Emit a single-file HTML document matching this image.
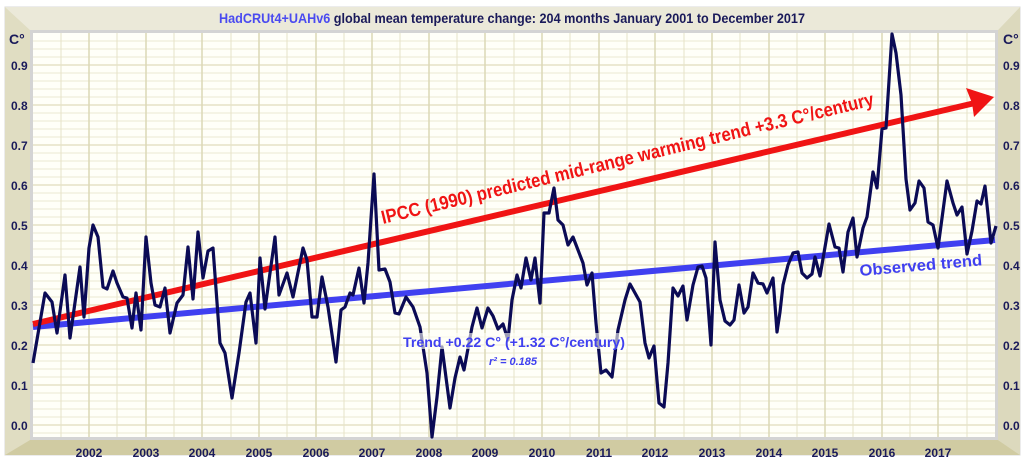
<!DOCTYPE html>
<html><head><meta charset="utf-8"><style>
html,body{margin:0;padding:0;background:#fff;width:1024px;height:460px;overflow:hidden}
svg{display:block}
text{font-family:"Liberation Sans",Arial,sans-serif;font-weight:bold}
</style></head><body>
<svg width="1024" height="460" viewBox="0 0 1024 460" xmlns="http://www.w3.org/2000/svg">
<!-- frame -->
<rect x="5" y="7" width="1015" height="448" fill="#ebe9d9" stroke="#d8d8d8"/>
<polygon points="5,7 30,30 30,440 5,455" fill="#e0ddc2"/>
<polygon points="1020,7 998,30 998,440 1020,455" fill="#dcd9bd"/>
<polygon points="5,455 30,440 998,440 1020,455" fill="#d0cba2"/>
<polygon points="5,7 1020,7 998,30 30,30" fill="#ebe9d9"/>
<!-- plot -->
<rect x="30" y="30" width="968" height="410" fill="#d4d4d4"/>
<rect x="33" y="33" width="962" height="404" fill="#fffff8"/>
<g stroke="#ebe8d2" stroke-width="1">
<line x1="33" y1="41" x2="995" y2="41"/><line x1="33" y1="49" x2="995" y2="49"/><line x1="33" y1="57" x2="995" y2="57"/><line x1="33" y1="73" x2="995" y2="73"/><line x1="33" y1="81" x2="995" y2="81"/><line x1="33" y1="89" x2="995" y2="89"/><line x1="33" y1="97" x2="995" y2="97"/><line x1="33" y1="113" x2="995" y2="113"/><line x1="33" y1="121" x2="995" y2="121"/><line x1="33" y1="129" x2="995" y2="129"/><line x1="33" y1="137" x2="995" y2="137"/><line x1="33" y1="153" x2="995" y2="153"/><line x1="33" y1="161" x2="995" y2="161"/><line x1="33" y1="169" x2="995" y2="169"/><line x1="33" y1="177" x2="995" y2="177"/><line x1="33" y1="193" x2="995" y2="193"/><line x1="33" y1="201" x2="995" y2="201"/><line x1="33" y1="209" x2="995" y2="209"/><line x1="33" y1="217" x2="995" y2="217"/><line x1="33" y1="233" x2="995" y2="233"/><line x1="33" y1="241" x2="995" y2="241"/><line x1="33" y1="249" x2="995" y2="249"/><line x1="33" y1="257" x2="995" y2="257"/><line x1="33" y1="273" x2="995" y2="273"/><line x1="33" y1="281" x2="995" y2="281"/><line x1="33" y1="289" x2="995" y2="289"/><line x1="33" y1="297" x2="995" y2="297"/><line x1="33" y1="313" x2="995" y2="313"/><line x1="33" y1="321" x2="995" y2="321"/><line x1="33" y1="329" x2="995" y2="329"/><line x1="33" y1="337" x2="995" y2="337"/><line x1="33" y1="353" x2="995" y2="353"/><line x1="33" y1="361" x2="995" y2="361"/><line x1="33" y1="369" x2="995" y2="369"/><line x1="33" y1="377" x2="995" y2="377"/><line x1="33" y1="393" x2="995" y2="393"/><line x1="33" y1="401" x2="995" y2="401"/><line x1="33" y1="409" x2="995" y2="409"/><line x1="33" y1="417" x2="995" y2="417"/><line x1="33" y1="433" x2="995" y2="433"/>
</g>
<g stroke="#e0dcbc" stroke-width="1.3">
<line x1="33" y1="65" x2="995" y2="65"/><line x1="33" y1="105" x2="995" y2="105"/><line x1="33" y1="145" x2="995" y2="145"/><line x1="33" y1="185" x2="995" y2="185"/><line x1="33" y1="225" x2="995" y2="225"/><line x1="33" y1="265" x2="995" y2="265"/><line x1="33" y1="305" x2="995" y2="305"/><line x1="33" y1="345" x2="995" y2="345"/><line x1="33" y1="385" x2="995" y2="385"/><line x1="33" y1="425" x2="995" y2="425"/>
</g>
<g stroke="#e6e3c8" stroke-width="1">
<line x1="61" y1="33" x2="61" y2="437"/><line x1="117" y1="33" x2="117" y2="437"/><line x1="174" y1="33" x2="174" y2="437"/><line x1="231" y1="33" x2="231" y2="437"/><line x1="287" y1="33" x2="287" y2="437"/><line x1="344" y1="33" x2="344" y2="437"/><line x1="400" y1="33" x2="400" y2="437"/><line x1="457" y1="33" x2="457" y2="437"/><line x1="514" y1="33" x2="514" y2="437"/><line x1="570" y1="33" x2="570" y2="437"/><line x1="627" y1="33" x2="627" y2="437"/><line x1="684" y1="33" x2="684" y2="437"/><line x1="740" y1="33" x2="740" y2="437"/><line x1="797" y1="33" x2="797" y2="437"/><line x1="853" y1="33" x2="853" y2="437"/><line x1="910" y1="33" x2="910" y2="437"/><line x1="967" y1="33" x2="967" y2="437"/>
</g>
<g stroke="#dcd8b6" stroke-width="1.5">
<line x1="89" y1="33" x2="89" y2="437"/><line x1="146" y1="33" x2="146" y2="437"/><line x1="202" y1="33" x2="202" y2="437"/><line x1="259" y1="33" x2="259" y2="437"/><line x1="316" y1="33" x2="316" y2="437"/><line x1="372" y1="33" x2="372" y2="437"/><line x1="429" y1="33" x2="429" y2="437"/><line x1="485" y1="33" x2="485" y2="437"/><line x1="542" y1="33" x2="542" y2="437"/><line x1="599" y1="33" x2="599" y2="437"/><line x1="655" y1="33" x2="655" y2="437"/><line x1="712" y1="33" x2="712" y2="437"/><line x1="769" y1="33" x2="769" y2="437"/><line x1="825" y1="33" x2="825" y2="437"/><line x1="882" y1="33" x2="882" y2="437"/><line x1="938" y1="33" x2="938" y2="437"/>
</g>
<!-- trend lines -->
<line x1="33" y1="327" x2="995" y2="240" stroke="#4040f0" stroke-width="6"/>
<line x1="33" y1="324" x2="975" y2="103" stroke="#f01414" stroke-width="6"/>
<polygon points="994,97 966,88 972,103 974,117" fill="#f01414"/>
<!-- data -->
<polyline fill="none" stroke="#0b0b55" stroke-width="3.2" stroke-linejoin="round" points="33,363 45,293 52,302 57,333 65,275 70,338 80,267 84,317 89,248 93,225 98,237 103,287 107,289 113,271 117,283 123,297 127,298 132,328 136,293 141,330 146,237 151,283 155,305 160,307 165,288 170,333 177,303 183,295 188,247 193,299 198,232 203,278 208,251 213,248 220,343 225,353 232,398 239,353 246,302 250,293 256,343 260,258 265,309 275,237 279,295 287,273 293,297 303,248 307,260 312,317 317,317 322,277 328,307 336,362 341,310 345,307 350,293 353,295 359,268 364,303 368,263 374,174 379,270 385,269 390,282 395,313 399,314 406,297 413,307 420,327 427,373 432,437 437,397 442,347 450,408 455,378 460,357 464,370 472,327 477,308 482,328 488,308 493,316 498,329 503,324 508,340 512,300 517,275 521,288 526,258 531,280 535,258 540,303 544,213 549,213 554,188 558,220 563,225 568,245 573,237 578,250 583,263 587,285 592,273 596,323 601,373 606,370 612,377 618,330 625,300 630,284 635,293 640,302 645,343 649,358 654,346 659,403 664,407 668,363 673,288 678,296 683,286 687,320 693,285 698,267 702,266 706,278 711,345 715,242 720,300 725,321 730,325 734,320 739,285 744,313 748,307 753,273 758,283 763,284 767,293 773,278 777,332 780,312 783,285 788,265 793,253 798,252 802,273 807,278 812,274 815,257 820,276 829,224 835,247 839,248 843,272 848,232 853,218 857,257 863,228 867,217 873,172 877,188 882,129 886,128 892,34 896,53 901,95 906,179 910,210 915,203 919,181 924,188 928,222 933,225 938,248 947,181 953,203 957,215 962,207 967,254 972,231 977,201 981,204 985,186 991,243 996,226"/>
<!-- annotations -->
<text x="383" y="224" transform="rotate(-13.6 383 224)" font-size="19" fill="#f01414" textLength="506" lengthAdjust="spacingAndGlyphs">IPCC (1990) predicted mid-range warming trend +3.3 C°/century</text>
<text x="860" y="276" transform="rotate(-5 860 276)" font-size="16" fill="#4040f0" textLength="123" lengthAdjust="spacingAndGlyphs">Observed trend</text>
<rect x="402" y="333" width="225" height="16" fill="#fffff8" opacity="0.6"/>
<text x="403" y="347" font-size="14" fill="#4040f0" textLength="222" lengthAdjust="spacingAndGlyphs">Trend +0.22 C° (+1.32 C°/century)</text>
<text x="489" y="365" font-size="11" font-style="italic" fill="#4040f0">r² = 0.185</text>
<!-- title -->
<text x="512" y="23" font-size="14" text-anchor="middle" fill="#1a1a5a" textLength="586" lengthAdjust="spacingAndGlyphs"><tspan fill="#4a4af0">HadCRUt4+UAHv6</tspan> global mean temperature change: 204 months January 2001 to December 2017</text>
<!-- y labels -->
<g font-size="12" fill="#1a1a5a">
<text x="9" y="44" font-size="14">C°</text>
<text x="1003" y="44" font-size="14">C°</text>
<g text-anchor="start">
<text x="11" y="70">0.9</text><text x="11" y="110">0.8</text><text x="11" y="150">0.7</text><text x="11" y="190">0.6</text><text x="11" y="230">0.5</text><text x="11" y="270">0.4</text><text x="11" y="310">0.3</text><text x="11" y="350">0.2</text><text x="11" y="390">0.1</text><text x="11" y="430">0.0</text>
<text x="1003" y="70">0.9</text><text x="1003" y="110">0.8</text><text x="1003" y="150">0.7</text><text x="1003" y="190">0.6</text><text x="1003" y="230">0.5</text><text x="1003" y="270">0.4</text><text x="1003" y="310">0.3</text><text x="1003" y="350">0.2</text><text x="1003" y="390">0.1</text><text x="1003" y="430">0.0</text>
</g>
<g text-anchor="middle">
<text x="89" y="457">2002</text><text x="146" y="457">2003</text><text x="202" y="457">2004</text><text x="259" y="457">2005</text><text x="316" y="457">2006</text><text x="372" y="457">2007</text><text x="429" y="457">2008</text><text x="485" y="457">2009</text><text x="542" y="457">2010</text><text x="599" y="457">2011</text><text x="655" y="457">2012</text><text x="712" y="457">2013</text><text x="769" y="457">2014</text><text x="825" y="457">2015</text><text x="882" y="457">2016</text><text x="938" y="457">2017</text>
</g>
</g>
</svg>
</body></html>
